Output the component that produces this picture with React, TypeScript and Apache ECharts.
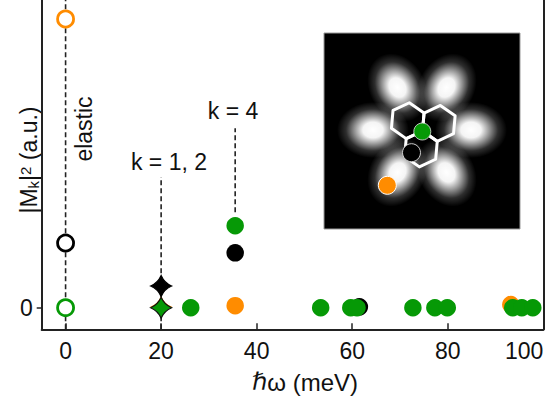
import React, { useEffect, useRef } from "react";
import * as echarts from "echarts";

// ---- data ----
const xTicks = [0, 20, 40, 60, 80, 100];
const yTicks = [0];
const xMin = -5;
const xMax = 100;
const yMin = -0.0748;
const yMax = 1.0658;

// elastic peak (ħω = 0): open circles
const elasticOrange = [[0, 1.0]];
const elasticBlack = [[0, 0.224]];
const elasticGreen = [[0, 0]];
// k = 1, 2 mode (stars)
const k12Orange = [[20, 0.003]];
const k12Black = [[20, 0.075]];
const k12Green = [[20, 0]];
// other modes (filled dots)
const dotsOrange = [[35.5, 0.007], [93.2, 0.011]];
const dotsBlack = [[35.5, 0.19], [61.5, 0.003]];
const dotsGreen = [
  [26.2, 0], [35.5, 0.284], [53.4, 0], [59.7, 0], [61.0, 0],
  [72.7, 0], [77.3, 0], [79.9, 0], [93.6, 0], [95.5, 0], [97.8, 0],
];
// dashed guide lines
const guideElastic = [[0, yMin], [0, yMax]];
const guideK12 = [[20, yMin], [20, 0.453]];
const guideK4 = [[35.5, 0.331], [35.5, 0.622]];

const ORANGE = "#ff8c00";
const GREEN = "#069906";
const BLACK = "#000000";
const FONT = "'Liberation Sans', Arial, Helvetica, 'DejaVu Sans', sans-serif";
const STAR = "path://M0,-10 Q3,-3 10,0 Q3,3 0,10 Q-3,3 -10,0 Q-3,-3 0,-10 Z";

function hexagons() {
  const C = [422.5, 131];
  const s = 18;
  const th = (5 * Math.PI) / 180;
  const rot = (p: number[]) => [
    C[0] + p[0] * Math.cos(th) - p[1] * Math.sin(th),
    C[1] + p[0] * Math.sin(th) + p[1] * Math.cos(th),
  ];
  const centers = [
    [-s * Math.cos(Math.PI / 6), -s / 2],
    [s * Math.cos(Math.PI / 6), -s / 2],
    [0, s],
  ];
  return centers.map((c) => {
    const pts: number[][] = [];
    for (let i = 0; i < 6; i++) {
      const a = ((-90 + 60 * i) * Math.PI) / 180;
      pts.push(rot([c[0] + s * Math.cos(a), c[1] + s * Math.sin(a)]));
    }
    return {
      type: "polygon",
      z: 12,
      shape: { points: pts },
      style: { fill: "none", stroke: "#ffffff", lineWidth: 3, lineJoin: "round" },
    };
  });
}

function lobes() {
  const cx = 422;
  const cy = 130;
  const r = 49;
  const out: any[] = [];
  for (let i = 0; i < 6; i++) {
    const a = (i * 60 * Math.PI) / 180;
    out.push({
      type: "ellipse",
      z: 11,
      x: cx + r * Math.cos(a),
      y: cy + r * Math.sin(a),
      rotation: -a,
      shape: { cx: 0, cy: 0, rx: 36, ry: 28 },
      style: {
        fill: new echarts.graphic.RadialGradient(0.5, 0.5, 0.5, [
          { offset: 0, color: "rgba(255,255,255,1)" },
          { offset: 0.28, color: "rgba(255,255,255,0.96)" },
          { offset: 0.5, color: "rgba(255,255,255,0.6)" },
          { offset: 0.75, color: "rgba(255,255,255,0.18)" },
          { offset: 1, color: "rgba(255,255,255,0)" },
        ]),
      },
    });
  }
  return out;
}

function scatter(data: number[][], color: string, opts: any = {}) {
  return {
    type: "scatter",
    data,
    z: 3,
    silent: true,
    symbol: "circle",
    symbolSize: 17.5,
    itemStyle: { color, opacity: 1 },
    ...opts,
  };
}

function openCircle(data: number[][], color: string) {
  return scatter(data, "#ffffff", {
    symbolSize: 16,
    itemStyle: { color: "#ffffff", borderColor: color, borderWidth: 2.8, opacity: 1 },
  });
}

function star(data: number[][], color: string, border: string, size: number) {
  return scatter(data, color, {
    symbol: STAR,
    symbolSize: size,
    itemStyle: { color, borderColor: border, borderWidth: 1.2, opacity: 1 },
  });
}

function guide(data: number[][]) {
  return {
    type: "line",
    data,
    z: 2,
    silent: true,
    symbol: "none",
    lineStyle: { color: "#222", width: 1.6, type: [5, 3] },
  };
}

const option: any = {
  animation: false,
  backgroundColor: "#ffffff",
  grid: { left: 41.7, right: 15.7, top: 0, bottom: 67.7, containLabel: false },
  xAxis: {
    type: "value",
    min: xMin,
    max: xMax,
    axisLine: { onZero: false, lineStyle: { color: "#222", width: 2 } },
    axisTick: {
      inside: true,
      length: 6,
      customValues: xTicks,
      lineStyle: { color: "#222", width: 1.5 },
    },
    axisLabel: {
      customValues: xTicks,
      fontSize: 23,
      fontFamily: FONT,
      color: "#111",
      margin: 10,
      alignMaxLabel: "right",
    },
    splitLine: { show: false },
  },
  yAxis: [
    {
      type: "value",
      min: yMin,
      max: yMax,
      axisLine: { show: true, onZero: false, lineStyle: { color: "#222", width: 2 } },
      axisTick: {
        show: true,
        inside: false,
        length: 5,
        customValues: yTicks,
        lineStyle: { color: "#222", width: 1.5 },
      },
      axisLabel: {
        customValues: yTicks,
        fontSize: 23,
        fontFamily: FONT,
        color: "#111",
        margin: 9,
      },
      splitLine: { show: false },
    },
    {
      type: "value",
      position: "right",
      min: yMin,
      max: yMax,
      axisLine: { show: true, onZero: false, lineStyle: { color: "#222", width: 2 } },
      axisTick: { show: false },
      axisLabel: { show: false },
      splitLine: { show: false },
    },
  ],
  series: [
    guide(guideElastic),
    guide(guideK12),
    guide(guideK4),
    openCircle(elasticOrange, ORANGE),
    openCircle(elasticBlack, BLACK),
    openCircle(elasticGreen, GREEN),
    star(k12Orange, ORANGE, ORANGE, 19),
    star(k12Black, BLACK, BLACK, 21),
    star(k12Green, GREEN, "#111", 21),
    scatter(dotsOrange, ORANGE),
    scatter(dotsBlack, BLACK),
    scatter(dotsGreen, GREEN),
  ],
  graphic: [
    {
      type: "text",
      x: 233,
      y: 111,
      style: { text: "k = 4", fontSize: 23, fontFamily: FONT, fill: "#111", align: "center", verticalAlign: "middle" },
    },
    {
      type: "text",
      x: 169,
      y: 162,
      style: { text: "k = 1, 2", fontSize: 23, fontFamily: FONT, fill: "#111", align: "center", verticalAlign: "middle" },
    },
    {
      type: "text",
      x: 84,
      y: 129,
      rotation: Math.PI / 2,
      style: { text: "elastic", fontSize: 23, fontFamily: FONT, fill: "#111", align: "center", verticalAlign: "middle" },
    },
    {
      type: "text",
      x: 29,
      y: 160,
      rotation: Math.PI / 2,
      style: {
        text: "{b||M}{sub|k}{b||}{sup|2}{b| (a.u.)}",
        align: "center",
        verticalAlign: "middle",
        fill: "#111",
        fontFamily: FONT,
        fontSize: 23,
        rich: {
          b: { fontSize: 23, fontFamily: FONT, fill: "#111", lineHeight: 23, verticalAlign: "middle" },
          sub: { fontSize: 15, fontFamily: FONT, fill: "#111", lineHeight: 15, verticalAlign: "bottom", padding: [14, 0, 0, 0] },
          sup: { fontSize: 15, fontFamily: FONT, fill: "#111", lineHeight: 15, verticalAlign: "top", padding: [0, 0, 14, 0] },
        },
      },
    },
    {
      type: "text",
      x: 305,
      y: 382,
      style: {
        text: "{h|ℏ}{b|ω (meV)}",
        align: "center",
        verticalAlign: "middle",
        fill: "#111",
        fontFamily: FONT,
        fontSize: 24,
        rich: {
          h: { fontSize: 24, fontFamily: "'DejaVu Sans', sans-serif", fontStyle: "italic", fill: "#111" },
          b: { fontSize: 24, fontFamily: FONT, fill: "#111" },
        },
      },
    },
    {
      type: "rect",
      z: 10,
      shape: { x: 324, y: 33, width: 196, height: 196 },
      style: { fill: "#000000", stroke: "#999999", lineWidth: 1 },
    },
    ...lobes(),
    ...hexagons(),
    {
      type: "circle",
      z: 13,
      shape: { cx: 422.3, cy: 131.5, r: 8.5 },
      style: { fill: GREEN, stroke: "#e6e6e6", lineWidth: 0.8 },
    },
    {
      type: "circle",
      z: 13,
      shape: { cx: 411.5, cy: 152.7, r: 9 },
      style: { fill: "#000000", stroke: "#cccccc", lineWidth: 1 },
    },
    {
      type: "circle",
      z: 13,
      shape: { cx: 387.3, cy: 185.3, r: 9 },
      style: { fill: ORANGE, stroke: "#ffffff", lineWidth: 1 },
    },
  ],
};

export default function App() {
  const ref = useRef<HTMLDivElement>(null);
  useEffect(() => {
    const chart = echarts.init(ref.current!, null, { renderer: "svg" });
    chart.setOption(option);
    return () => chart.dispose();
  }, []);
  return (
    <div
      ref={ref}
      style={{ position: "fixed", left: 0, top: 0, width: 559, height: 397, background: "#fff" }}
    />
  );
}
